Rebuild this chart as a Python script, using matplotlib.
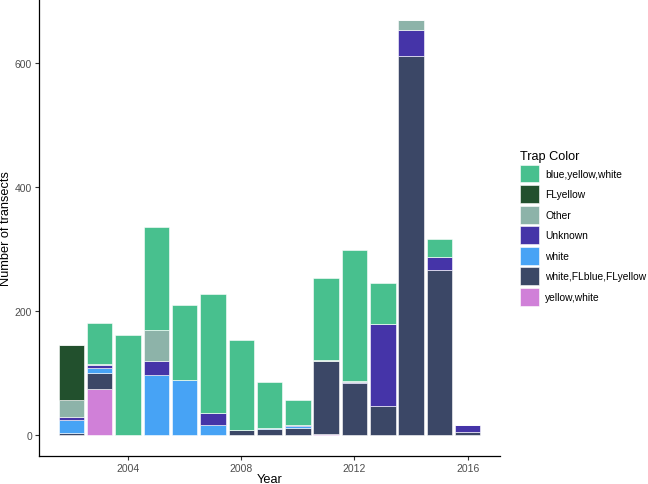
import numpy as np
import matplotlib.pyplot as plt
from matplotlib.patches import Patch

plt.rcParams['font.family'] = ['Liberation Sans', 'DejaVu Sans']

years = [2002, 2003, 2004, 2005, 2006, 2007, 2008, 2009, 2010, 2011, 2012, 2013, 2014, 2015, 2016]

# counts per trap colour
blue_yellow_white = [0, 66, 161, 165, 121, 192, 144, 74, 40, 133, 211, 66, 0, 29, 0]
fl_yellow = [90, 0, 0, 0, 0, 0, 0, 0, 0, 0, 0, 0, 0, 0, 0]
other = [26, 2, 0, 50, 0, 0, 0, 0, 0, 1, 1, 0, 16, 0, 0]
unknown = [5, 5, 0, 23, 0, 19, 0, 0, 2, 0, 2, 132, 42, 22, 11]
white = [21, 8, 0, 97, 89, 16, 0, 1, 3, 0, 0, 0, 0, 0, 0]
white_flblue_flyellow = [4, 25, 0, 0, 0, 0, 9, 10, 11, 119, 84, 47, 611, 266, 5]
yellow_white = [0, 75, 0, 0, 0, 0, 0, 0, 0, 1, 0, 0, 0, 0, 0]

labels = ['blue,yellow,white', 'FLyellow', 'Other', 'Unknown', 'white',
          'white,FLblue,FLyellow', 'yellow,white']
colors = ['#48C08E', '#22502D', '#8DB3A9', '#4534A8', '#47A3F5', '#3B4766', '#D080D8']
series = [blue_yellow_white, fl_yellow, other, unknown, white,
          white_flblue_flyellow, yellow_white]

fig = plt.figure(figsize=(6.48, 4.85), dpi=100)
ax = fig.add_axes([0.060, 0.058, 0.712, 0.942])

# stack from the last level up, like ggplot does
bottom = np.zeros(len(years))
for vals, col in zip(series[::-1], colors[::-1]):
    vals = np.array(vals, dtype=float)
    ax.bar(years, vals, width=0.9, bottom=bottom, color=col,
           edgecolor='white', linewidth=0.4)
    bottom += vals

ax.set_xlim(2000.85, 2017.15)
ax.set_ylim(-33.5, 703.5)
ax.set_xticks([2004, 2008, 2012, 2016])
ax.set_yticks([0, 200, 400, 600])
ax.tick_params(labelsize=7.5, labelcolor='#4D4D4D', length=3, width=0.8,
               color='#333333', pad=2)
for s in ['top', 'right']:
    ax.spines[s].set_visible(False)
for s in ['left', 'bottom']:
    ax.spines[s].set_linewidth(0.9)
    ax.spines[s].set_color('black')

ax.set_xlabel('Year', fontsize=9.2, labelpad=0)
ax.set_ylabel('Number of transects', fontsize=9.2, labelpad=2)

handles = [Patch(facecolor=c, edgecolor='white', linewidth=0.4) for c in colors]
leg = fig.legend(handles, labels, loc='upper left', bbox_to_anchor=(0.802, 0.689),
                 frameon=False, fontsize=7.4, title='Trap Color', title_fontsize=9.2,
                 handlelength=1.85, handleheight=2.3, labelspacing=0.26,
                 handletextpad=0.65, borderaxespad=0, borderpad=0)
leg._legend_box.align = 'left'

fig.savefig('out.png', dpi=100)
